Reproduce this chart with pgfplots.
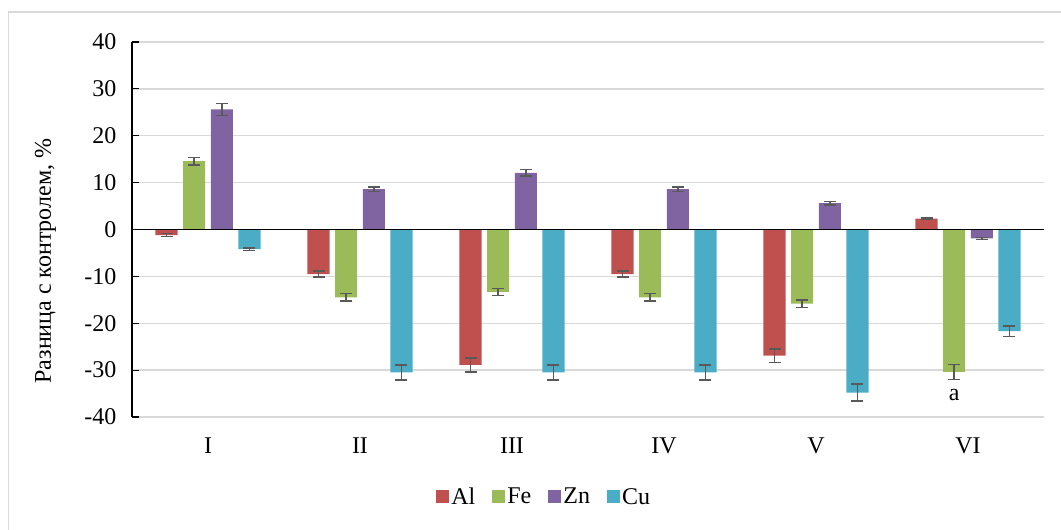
\documentclass[border=0pt]{standalone}
\usepackage{pgfplots}
\pgfplotsset{compat=1.18}
\usepackage{fontspec}
\setmainfont{Liberation Serif}
\definecolor{cAl}{HTML}{C0504D}
\definecolor{cFe}{HTML}{9BBB59}
\definecolor{cZn}{HTML}{8064A2}
\definecolor{cCu}{HTML}{4BACC6}
\definecolor{errc}{HTML}{595959}
\definecolor{gridc}{HTML}{D9D9D9}
\newcommand\cf{\fontsize{24}{28.8}\selectfont}
\pgfplotsset{
  errstyle/.style={error bars/.cd, y dir=both, y explicit,
    error bar style={errc, line width=1.5pt},
    error mark options={errc, line width=1.5pt, mark size=6pt, rotate=90}},
}
\begin{document}
\begin{tikzpicture}
\path[use as bounding box] (0pt,0pt) rectangle (1061pt,530pt);
\draw[gridc, line width=1.5pt] (8.5pt,0pt) -- (8.5pt,518pt) -- (1061pt,518pt);
\begin{axis}[
  at={(132pt,113pt)}, anchor=south west,
  scale only axis, width=912pt, height=375pt,
  xmin=-0.5, xmax=5.5, ymin=-40, ymax=40,
  ytick={-40,-30,...,40},
  xtick={0,...,5}, xticklabels={I,II,III,IV,V,VI},
  axis x line*=bottom, axis y line*=left,
  axis line style={-},
  x axis line style={draw=none},
  y axis line style={black, line width=1.2pt},
  ymajorgrids, grid style={gridc, line width=1.3pt},
  major tick length=7pt, tick align=inside,
  ytick style={black, line width=1.2pt},
  xtick style={draw=none},
  /pgf/number format/assume math mode=true,
  tick label style={font=\cf},
  yticklabel style={xshift=-12pt},
  xticklabel style={yshift=-10pt},
  ylabel={Разница с контролем, \%},
  ylabel style={font=\cf, at={(axis description cs:-0.095,0.416)}, anchor=center},
  ybar, bar width=0.145,
  legend style={draw=none, font=\cf, legend columns=4,
    at={(axis description cs:0.452,-0.213)}, anchor=center,
    /tikz/every even column/.append style={column sep=15pt}},
  legend image code/.code={\fill[#1] (0pt,-6.5pt) rectangle (13pt,6.5pt);},
]
\addplot[fill=cAl, draw=none, bar shift=-0.273, errstyle] coordinates {
  (0,-1.2) +- (0,0.3) (1,-9.5) +- (0,0.6) (2,-28.9) +- (0,1.5)
  (3,-9.5) +- (0,0.6) (4,-26.9) +- (0,1.45) (5,2.3) +- (0,0.2)};
\addplot[fill=cFe, draw=none, bar shift=-0.091, errstyle] coordinates {
  (0,14.6) +- (0,0.8) (1,-14.5) +- (0,0.8) (2,-13.3) +- (0,0.75)
  (3,-14.5) +- (0,0.8) (4,-15.8) +- (0,0.8) (5,-30.4) +- (0,1.6)};
\addplot[fill=cZn, draw=none, bar shift=0.091, errstyle] coordinates {
  (0,25.6) +- (0,1.3) (1,8.6) +- (0,0.5) (2,12.1) +- (0,0.7)
  (3,8.6) +- (0,0.5) (4,5.6) +- (0,0.4) (5,-1.9) +- (0,0.2)};
\addplot[fill=cCu, draw=none, bar shift=0.273, errstyle] coordinates {
  (0,-4.2) +- (0,0.3) (1,-30.5) +- (0,1.6) (2,-30.5) +- (0,1.6)
  (3,-30.5) +- (0,1.6) (4,-34.8) +- (0,1.8) (5,-21.7) +- (0,1.1)};
\legend{Al,Fe,Zn,Cu}
\addplot[sharp plot, black, line width=1.3pt, forget plot] coordinates {(-0.5,0) (5.5,0)};
\node[font=\cf] at (axis cs:4.909,-35.2) {a};
\end{axis}
\end{tikzpicture}
\end{document}
